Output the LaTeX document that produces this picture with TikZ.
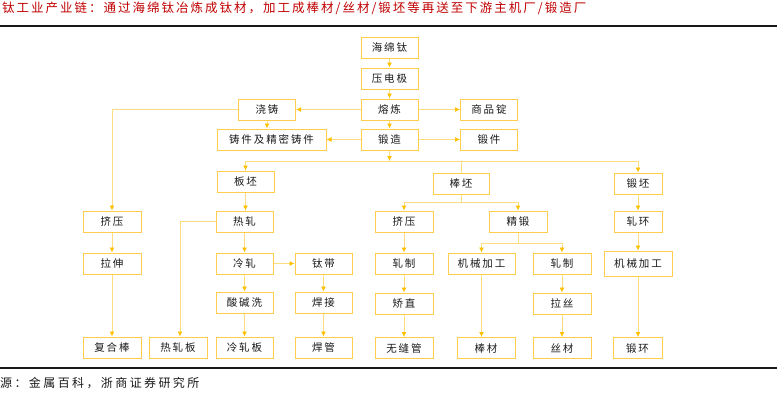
\documentclass[tikz,border=0pt]{standalone}
\usepackage{fontspec}
\setmainfont{Noto Sans CJK SC}
\newfontfamily\boxfont[LetterSpace=18]{Noto Sans CJK SC}
\newfontfamily\titlefont[LetterSpace=16]{Noto Sans CJK SC}
\newfontfamily\notefont[LetterSpace=20]{Noto Sans CJK SC}
\usetikzlibrary{arrows.meta}

\definecolor{boxline}{RGB}{255,204,77}
\definecolor{linkline}{RGB}{255,220,130}
\definecolor{tipfill}{RGB}{255,192,0}
\definecolor{titlered}{RGB}{192,0,0}

\tikzstyle{block} = [rectangle, draw=boxline, line width=1pt, minimum width=57pt, minimum height=21pt, inner sep=0pt, font=\boxfont\fontsize{10.5}{12}\selectfont, text=black!90]
\tikzstyle{link} = [draw=linkline, line width=0.8pt]
\tikzstyle{arrow} = [link, -{Latex[length=5pt, width=5pt, color=tipfill]}]

\begin{document}
\begin{tikzpicture}[x=1pt, y=-1pt]
        \useasboundingbox (0,0) rectangle (777,400);
        % Heading and rules
        \node (title) at (2,8) [anchor=west, inner sep=0pt, text=titlered, font=\titlefont\fontsize{12.5}{14}\selectfont] {钛工业产业链：通过海绵钛冶炼成钛材，加工成棒材/丝材/锻坯等再送至下游主机厂/锻造厂};
        \draw[line width=1.2pt, black!90] (0,26) -- (777,26);
        \draw[line width=1.2pt, black!90] (0,368) -- (777,368);
        \node (src) at (0,383) [anchor=west, inner sep=0pt, text=black!90, font=\notefont\fontsize{12}{14}\selectfont] {源：金属百科，浙商证券研究所};

        % Main column
        \node (hmt) at (389.5,47.5) [block] {海绵钛};
        \node (ydj) at (389.5,78.5) [block] {压电极};
        \node (rl) at (389.5,109.5) [block] {熔炼};
        \node (dz) at (389.5,139.5) [block] {锻造};
        \node (jz) at (267,109.5) [block] {浇铸};
        \node (zj) at (271.5,139.5) [block, minimum width=109pt] {铸件及精密铸件};
        \node (spd) at (489,109.5) [block] {商品锭};
        \node (dj) at (489,139.5) [block] {锻件};

        % Billets
        \node (bp) at (245.5,181.5) [block] {板坯};
        \node (bangp) at (461,183.5) [block, minimum width=56pt] {棒坯};
        \node (dp) at (638,183.5) [block, minimum width=48pt] {锻坯};

        % Processing
        \node (jy1) at (112,221.5) [block, minimum width=58pt] {挤压};
        \node (rz) at (244.5,221.5) [block] {热轧};
        \node (jy2) at (404,221.5) [block, minimum width=58pt] {挤压};
        \node (jd) at (518,221.5) [block, minimum width=58pt] {精锻};
        \node (zh) at (638,221.5) [block, minimum width=48pt] {轧环};

        \node (ls) at (112,263.5) [block, minimum width=58pt] {拉伸};
        \node (lz) at (244.5,263.5) [block] {冷轧};
        \node (td) at (323.5,263.5) [block] {钛带};
        \node (zz1) at (404,263.5) [block, minimum width=58pt] {轧制};
        \node (jx1) at (481.5,263.5) [block, minimum width=67pt] {机械加工};
        \node (zz2) at (562,263.5) [block, minimum width=58pt] {轧制};
        \node (jx2) at (638,263.5) [block, minimum width=68pt, minimum height=25pt] {机械加工};

        \node (sjx) at (244.5,302.5) [block] {酸碱洗};
        \node (hj) at (323.5,302.5) [block] {焊接};
        \node (jzh) at (404,303.5) [block, minimum width=58pt] {矫直};
        \node (lsi) at (562,303.5) [block, minimum width=58pt] {拉丝};

        % Products
        \node (fhb) at (112,347.5) [block, minimum width=58pt] {复合棒};
        \node (rzb) at (178,347.5) [block, minimum width=58pt] {热轧板};
        \node (lzb) at (244.5,347.5) [block] {冷轧板};
        \node (hg) at (323.5,347.5) [block] {焊管};
        \node (wfg) at (404,348) [block, minimum width=58pt] {无缝管};
        \node (bc) at (486,348) [block, minimum width=58pt] {棒材};
        \node (sc) at (562,348) [block, minimum width=58pt] {丝材};
        \node (dh) at (637.5,348) [block, minimum width=49pt] {锻环};

        % Links
        \draw[arrow] (hmt) -- (ydj);
        \draw[arrow] (ydj) -- (rl);
        \draw[arrow] (rl) -- (dz);
        \draw[arrow] (rl) -- (jz);
        \draw[arrow] (rl) -- (spd);
        \draw[arrow] (dz) -- (zj);
        \draw[arrow] (dz) -- (dj);
        \draw[arrow] (jz) -- (jz |- zj.north);
        \draw[arrow] (jz.west) -| (jy1.north);

        \coordinate (bus) at (389.5,161);
        \draw[arrow] (dz) -- (bus);
        \draw[link] (bus -| bp) -- (bus -| dp);
        \draw[arrow] (bus -| bp) -- (bp);
        \draw[link] (bus -| bangp) -- (bangp);
        \draw[arrow] (bus -| dp) -- (dp);

        \draw[arrow] (bp) -- (bp |- rz.north);
        \draw[arrow] (rz) -- (lz);
        \draw[arrow] (rz.west) -| ([xshift=2pt]rzb.north);
        \draw[arrow] (lz) -- (sjx);
        \draw[arrow] (sjx) -- (lzb);
        \draw[arrow] (lz) -- (td);
        \draw[arrow] (td) -- (hj);
        \draw[arrow] (hj) -- (hg);

        \draw[arrow] (jy1) -- (ls);
        \draw[arrow] (ls) -- (fhb);

        \coordinate (fork1) at (461,202);
        \draw[link] (bangp) -- (fork1);
        \draw[link] (fork1 -| jy2) -- (fork1 -| jd);
        \draw[arrow] (fork1 -| jy2) -- (jy2);
        \draw[arrow] (fork1 -| jd) -- (jd);
        \draw[arrow] (jy2) -- (zz1);
        \draw[arrow] (zz1) -- (jzh);
        \draw[arrow] (jzh) -- (wfg);

        \coordinate (fork2) at (519,243);
        \draw[link] (jd) -- (jd |- fork2);
        \draw[link] (fork2 -| jx1) -- (fork2 -| zz2);
        \draw[arrow] (fork2 -| jx1) -- (jx1);
        \draw[arrow] (fork2 -| zz2) -- (zz2);
        \draw[arrow] (jx1) -- (jx1 |- bc.north);
        \draw[arrow] (zz2) -- (lsi);
        \draw[arrow] (lsi) -- (sc);

        \draw[arrow] (dp) -- (zh);
        \draw[arrow] (zh) -- (jx2);
        \draw[arrow] (jx2) -- (jx2 |- dh.north);
\end{tikzpicture}
\end{document}
